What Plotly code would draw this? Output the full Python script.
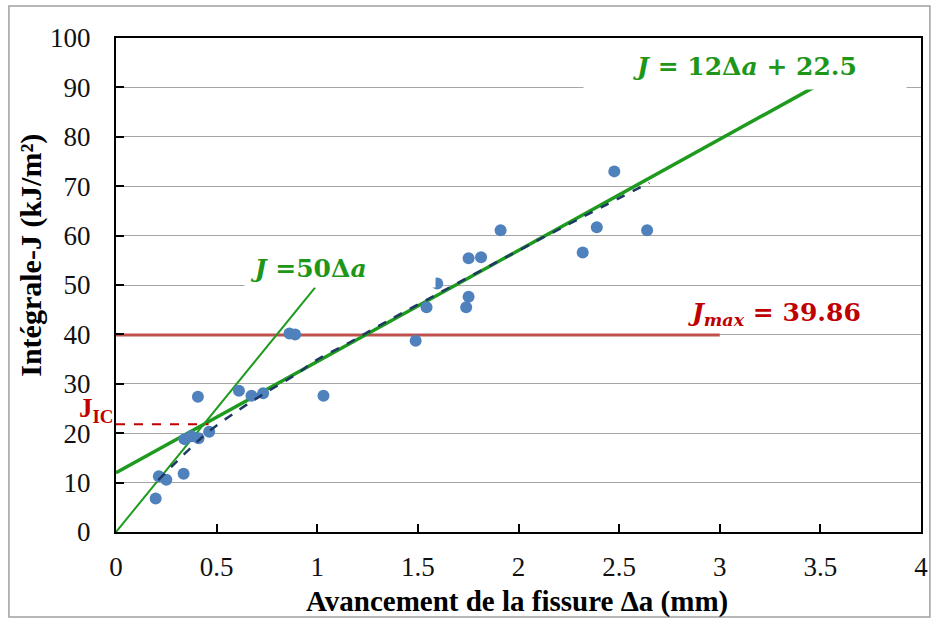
import plotly.graph_objects as go

# ---- data ----
da_points = [0.197, 0.213, 0.250, 0.336, 0.340, 0.375, 0.410, 0.407, 0.463, 0.611, 0.673, 0.731,
             0.862, 0.890, 1.031, 1.489, 1.543, 1.596, 1.740, 1.752, 1.752, 1.814, 1.911,
             2.319, 2.389, 2.476, 2.639]
j_points = [6.8, 11.3, 10.6, 11.8, 18.8, 19.4, 19.0, 27.4, 20.3, 28.6, 27.6, 28.1,
            40.2, 40.0, 27.6, 38.7, 45.5, 50.3, 45.5, 47.6, 55.4, 55.6, 61.1,
            56.6, 61.7, 73.0, 61.1]

# dashed trend curve
trend_x = [0.21, 0.34, 0.46, 0.61, 0.74, 0.89, 1.00, 1.14, 1.30, 1.79, 2.15, 2.65]
trend_y = [10.5, 15.8, 20.3, 24.7, 28.1, 31.8, 34.9, 37.9, 41.6, 52.4, 60.2, 70.7]

# R-curve linear fit (as drawn) and blunting line
fit_slope, fit_intercept = 22.5, 12.0
fit_range = [0.0, 3.55]
blunt_slope = 50.0
blunt_range = [0.0, 0.99]
j_max = 39.86
j_max_range = [0.0, 3.0]
j_ic = 21.8
j_ic_range = [0.0, 0.46]

x_ticks = [0, 0.5, 1, 1.5, 2, 2.5, 3, 3.5, 4]
x_tick_text = ["0", "0.5", "1", "1.5", "2", "2.5", "3", "3.5", "4"]
y_ticks = list(range(0, 101, 10))

GREEN = "#1E9B1E"
GREEN_TXT = "#1E9619"
RED_LINE = "#C0504D"
RED_TXT = "#C00000"
BLUE = "#4F81BD"
NAVY = "#1F3864"
SERIF = "Liberation Serif, Times New Roman, serif"
MATH = "DejaVu Serif, serif"

fig = go.Figure()

fig.add_trace(go.Scatter(x=j_max_range, y=[j_max, j_max], mode="lines",
                         line=dict(color=RED_LINE, width=3), showlegend=False, hoverinfo="skip"))
fig.add_trace(go.Scatter(x=blunt_range, y=[blunt_slope * v for v in blunt_range], mode="lines",
                         line=dict(color=GREEN, width=2), showlegend=False, hoverinfo="skip"))
fig.add_trace(go.Scatter(x=fit_range, y=[fit_slope * v + fit_intercept for v in fit_range], mode="lines",
                         line=dict(color=GREEN, width=3.5), showlegend=False, hoverinfo="skip"))
fig.add_trace(go.Scatter(x=j_ic_range, y=[j_ic, j_ic], mode="lines",
                         line=dict(color=RED_TXT, width=2, dash="dash"), showlegend=False, hoverinfo="skip"))
fig.add_trace(go.Scatter(x=da_points, y=j_points, mode="markers",
                         marker=dict(color=BLUE, size=12), showlegend=False))
fig.add_trace(go.Scatter(x=trend_x, y=trend_y, mode="lines", line_shape="spline",
                         line=dict(color=NAVY, width=2.5, dash="dash"), showlegend=False, hoverinfo="skip"))

W, H = 939, 619
ML, MR, MT, MB = 116, 11, 38, 87
PW, PH = W - ML - MR, H - MT - MB


def px_x(p):
    return (p - ML) / PW


def px_y(p):
    return (H - MB - p) / PH


annotations = [
    dict(text="<b><i>J</i> = 12Δ<i>a</i> + 22.5</b>", xref="paper", yref="paper",
         x=px_x(750), y=px_y(66), xanchor="center", yanchor="middle", showarrow=False,
         font=dict(family=MATH, size=25, color=GREEN_TXT), bgcolor="white",
         width=320, height=44),
    dict(text="<b>&nbsp;<i>J</i> =50Δ<i>a</i></b>", xref="paper", yref="paper",
         x=px_x(342), y=px_y(268), xanchor="center", yanchor="middle", showarrow=False,
         font=dict(family=MATH, size=25, color=GREEN_TXT), bgcolor="white",
         width=188, height=36, align="left"),
    dict(text="<b><i>J<sub>max</sub></i> = 39.86</b>", xref="paper", yref="paper",
         x=px_x(780), y=px_y(314), xanchor="center", yanchor="middle", showarrow=False,
         font=dict(family=MATH, size=25, color=RED_TXT)),
    dict(text="<b>J<sub>IC</sub></b>", xref="paper", yref="paper",
         x=px_x(96), y=px_y(410), xanchor="center", yanchor="middle", showarrow=False,
         font=dict(family=SERIF, size=27, color=RED_TXT)),
    dict(text="<b>Intégrale-J (kJ/m²)</b>", xref="paper", yref="paper",
         x=px_x(30), y=px_y(255), xanchor="center", yanchor="middle", showarrow=False,
         textangle=-90, font=dict(family=SERIF, size=30, color="black")),
    dict(text="<b>Avancement de la fissure Δa (mm)</b>", xref="paper", yref="paper",
         x=px_x(520), y=px_y(601), xanchor="center", yanchor="middle", showarrow=False,
         font=dict(family=SERIF, size=29, color="black")),
]

fig.update_layout(
    width=W, height=H,
    margin=dict(l=ML, r=MR, t=MT, b=MB, pad=0),
    paper_bgcolor="white", plot_bgcolor="white",
    showlegend=False,
    annotations=annotations,
    shapes=[dict(type="rect", xref="paper", yref="paper",
                 x0=px_x(8), x1=px_x(937), y0=px_y(617), y1=px_y(6),
                 line=dict(color="#A0A0A0", width=1.5), fillcolor="rgba(0,0,0,0)", layer="below")],
    xaxis=dict(range=[0, 4], tickvals=x_ticks, ticktext=x_tick_text, showgrid=False,
               zeroline=False, showline=True, linecolor="black", linewidth=2, mirror=True,
               ticks="inside", ticklen=8, tickwidth=2, tickcolor="black",
               tickfont=dict(family=SERIF, size=27, color="#111111"), ticklabelstandoff=10),
    yaxis=dict(range=[0, 100], tickvals=y_ticks, showgrid=True, gridcolor="#A6A6A6", gridwidth=1.2,
               zeroline=False, showline=True, linecolor="black", linewidth=2, mirror=True,
               ticks="inside", ticklen=8, tickwidth=2, tickcolor="black",
               tickfont=dict(family=SERIF, size=27, color="#111111"), ticklabelstandoff=18),
)

fig.write_html("out.html", config={"displayModeBar": False},
               post_script="document.body.style.margin='0';document.body.style.padding='0';document.body.style.overflow='hidden';")
